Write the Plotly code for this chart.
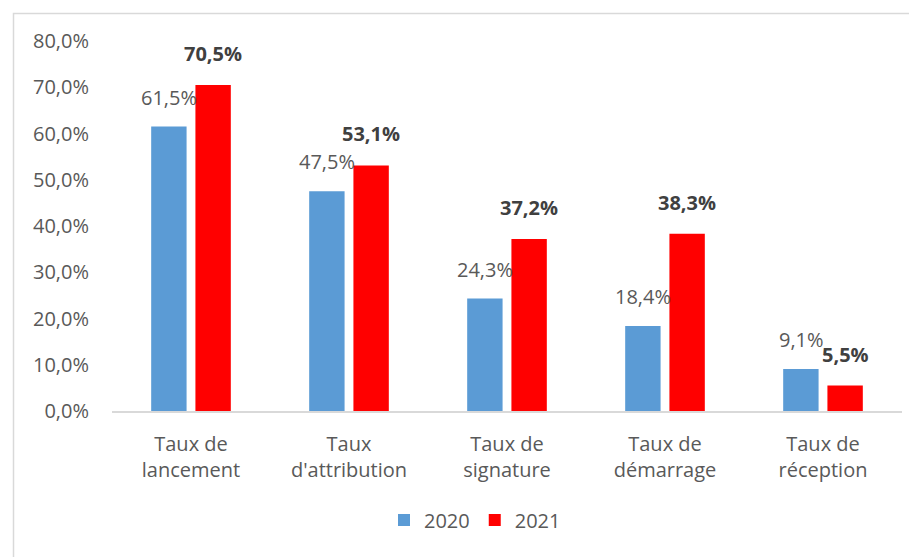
import plotly.graph_objects as go

categories = ["Taux de<br>lancement", "Taux<br>d'attribution", "Taux de<br>signature",
              "Taux de<br>démarrage", "Taux de<br>réception"]
series_names = ["2020", "2021"]
values_2020 = [61.5, 47.5, 24.3, 18.4, 9.1]
values_2021 = [70.5, 53.1, 37.2, 38.3, 5.5]
tick_vals = [0, 10, 20, 30, 40, 50, 60, 70, 80]
tick_text = ["0,0%", "10,0%", "20,0%", "30,0%", "40,0%", "50,0%", "60,0%", "70,0%", "80,0%"]

FONT = "Open Sans"
GRAY = "#595959"

fig = go.Figure()
fig.add_trace(go.Bar(name=series_names[0], x=categories, y=values_2020,
                     marker=dict(color="#5B9BD5", line=dict(width=0))))
fig.add_trace(go.Bar(name=series_names[1], x=categories, y=values_2021,
                     marker=dict(color="#FF0000", line=dict(width=0))))

def fmt(v):
    return f"{v:.1f}%".replace(".", ",")

annotations = []
for c, v in zip(categories, values_2020):
    annotations.append(dict(x=c, y=v, xref="x", yref="y", text=fmt(v), showarrow=False,
                            xshift=-22, yshift=14, yanchor="bottom",
                            font=dict(family=FONT, size=20, color=GRAY)))
for c, v in zip(categories, values_2021):
    annotations.append(dict(x=c, y=v, xref="x", yref="y", text="<b>" + fmt(v) + "</b>",
                            showarrow=False, xshift=22, yshift=16, yanchor="bottom",
                            font=dict(family=FONT, size=20, color="#404040")))

# page body has an 8px margin: lay the figure out in shifted coordinates
OFF = 8
W, H = 917 - OFF, 557 - OFF
L, R, T = 112 - OFF, 15, 41 - OFF
ph = 370
B = H - T - ph
pw = W - L - R
base = 411 - OFF  # y pixel of the x axis in figure coords

fig.update_layout(
    width=W, height=H, autosize=False,
    margin=dict(l=L, r=R, t=T, b=B, pad=0),
    paper_bgcolor="white", plot_bgcolor="white",
    barmode="group", bargap=0.44, bargroupgap=0.2,
    font=dict(family=FONT, size=20, color=GRAY),
    showlegend=True,
    legend=dict(orientation="h", x=(475 - OFF - L) / pw, xanchor="center",
                y=(base - (520 - OFF)) / ph, yanchor="middle",
                font=dict(family=FONT, size=20, color=GRAY),
                itemwidth=30, traceorder="normal"),
    annotations=annotations,
    shapes=[dict(type="rect", xref="paper", yref="paper",
                 x0=(13.5 - OFF - L) / pw, x1=(W + 10 - L) / pw,
                 y0=(base - (H + 10)) / ph, y1=(base - (13.5 - OFF)) / ph,
                 line=dict(color="#D9D9D9", width=1.5), layer="below")],
)
fig.update_xaxes(showline=True, linecolor="#D9D9D9", linewidth=1.5, ticks="",
                 showgrid=False, tickfont=dict(family=FONT, size=20, color=GRAY),
                 ticklabelstandoff=14)
fig.update_yaxes(range=[0, 80], tickvals=tick_vals, ticktext=tick_text, showgrid=False,
                 zeroline=False, showline=False, ticks="",
                 tickfont=dict(family=FONT, size=20, color=GRAY),
                 ticklabelstandoff=22)

fig.write_html("out.html")
